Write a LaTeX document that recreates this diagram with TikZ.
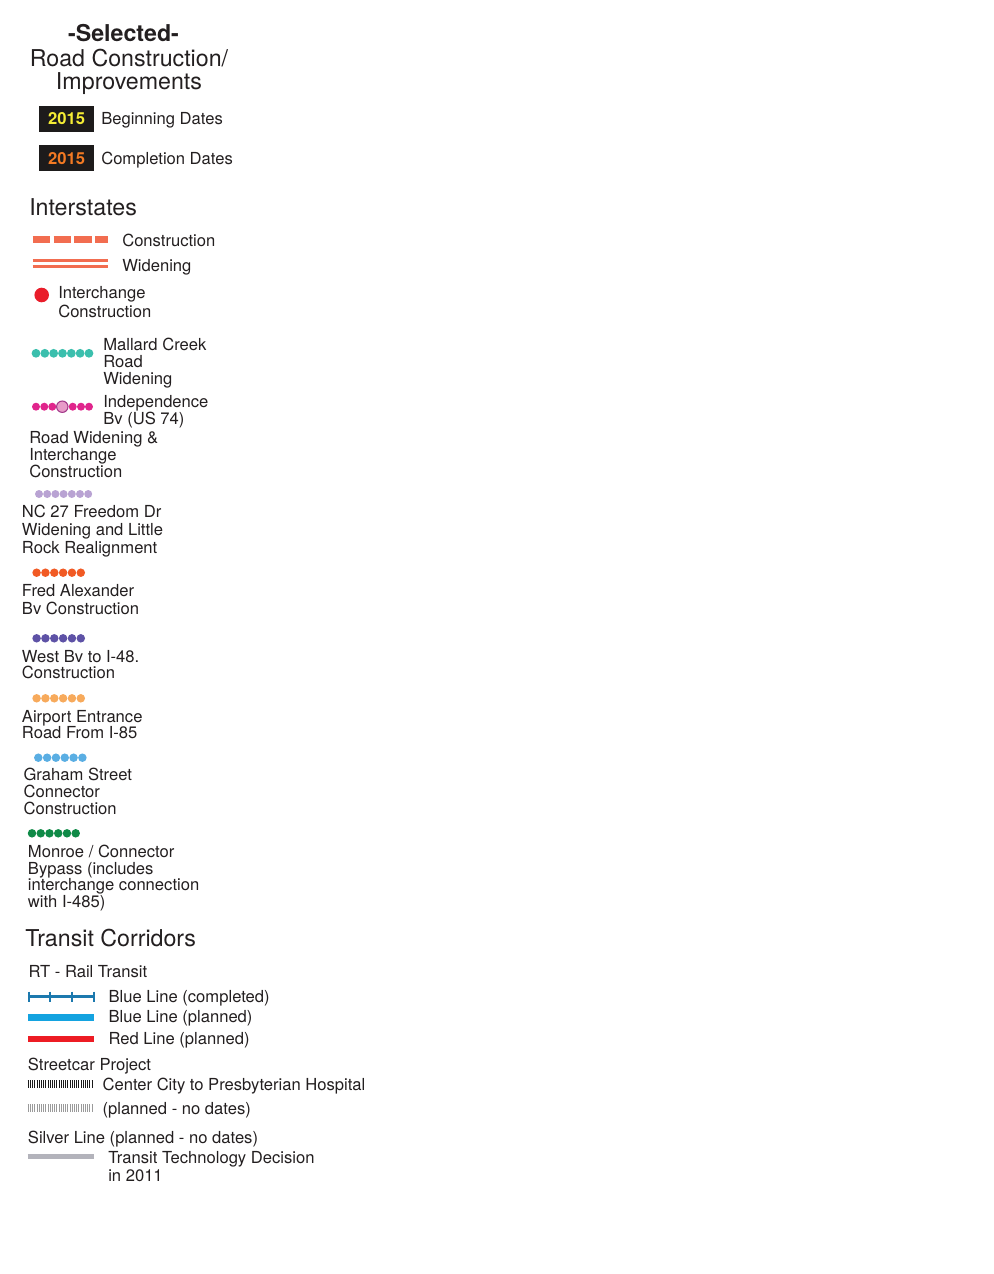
\documentclass[tikz,border=0pt]{standalone}
\usepackage{fontspec}
\setmainfont{TeX Gyre Heros}
\usetikzlibrary{positioning}
\definecolor{ink}{HTML}{231F20}
\definecolor{datebg}{HTML}{1D1B1B}
\definecolor{begyellow}{HTML}{F5EC35}
\definecolor{endorange}{HTML}{F37A23}
\definecolor{interst}{HTML}{F26D50}
\definecolor{ichgred}{HTML}{E91D2A}
\definecolor{mallard}{HTML}{3BBFAD}
\definecolor{indep}{HTML}{E0258C}
\definecolor{indeppink}{HTML}{E79BC8}
\definecolor{indeprim}{HTML}{A2398A}
\definecolor{freedom}{HTML}{B9A3D3}
\definecolor{fredalex}{HTML}{F15A24}
\definecolor{westbv}{HTML}{5E52A6}
\definecolor{airport}{HTML}{F7AA5C}
\definecolor{graham}{HTML}{5AAEE3}
\definecolor{monroe}{HTML}{0F8A47}
\definecolor{bluedone}{HTML}{1C79AE}
\definecolor{blueplan}{HTML}{14A3E0}
\definecolor{redplan}{HTML}{ED1C24}
\definecolor{scdark}{HTML}{1A1A1A}
\definecolor{sclight}{HTML}{9A9A9A}
\definecolor{silver}{HTML}{B3B3BB}
\tikzset{
  px/.style={x=0.75pt, y=-0.75pt},
  heading/.style={anchor=base west, inner sep=0pt, text=ink,
    font=\fontsize{17.4}{18}\selectfont},
  % multi-line items sit on the baseline of their last line
  item/.style={anchor=base west, inner sep=0pt, align=left, text=ink,
    font=\fontsize{12.45}{#1}\selectfont},
  item/.default=12.6,
  datebox/.style={fill=datebg, inner sep=0pt, minimum width=41pt,
    minimum height=19.3pt, font=\bfseries\fontsize{12.45}{13}\selectfont},
  swatch/.style={line cap=butt},
  interdash/.style={swatch, draw=interst, line width=5.5pt,
    dash pattern=on 13pt off 2.6pt},
  interwide/.style={swatch, draw=interst, line width=2.2pt},
  rail/.style={swatch, line width=5pt},
  streetcar/.style={swatch, line width=6pt, dash pattern=on 0.85pt off 0.8pt}
}
\begin{document}
\begin{tikzpicture}[px]
  \useasboundingbox (0,0) rectangle (994,1274);

  % title
  \node[anchor=base, inner sep=0pt, text=ink,
        font=\bfseries\fontsize{17.4}{18}\selectfont] (selected) at (123.5,41.7) {-Selected-};
  \node[anchor=base, inner sep=0pt, align=center, text=ink,
        font=\fontsize{17.4}{17.5}\selectfont] (roadtitle) at (129,89.5) {Road Construction/\\Improvements};

  % date keys
  \node[datebox, text=begyellow] (begbox) at (66.7,118.8) {2015};
  \node[item] (beglbl) at (101,124.3) {Beginning Dates};
  \node[datebox, text=endorange] (endbox) at (66.7,158.3) {2015};
  \node[item] (endlbl) at (101,164) {Completion Dates};

  % Interstates
  \node[heading] (inter) at (29,215) {Interstates};
  \draw[interdash] (32.7,239.7) -- (108.3,239.7);
  \node[item] (constr) at (122,246) {Construction};
  \draw[interwide] (32.7,260.3) -- (108.3,260.3);
  \draw[interwide] (32.7,266.7) -- (108.3,266.7);
  \node[item] (widen) at (122,271.7) {Widening};
  \fill[ichgred] (41.7,295) circle[radius=7.3];
  \node[item=14.5] (ichg) at (58,317.5) {Interchange\\Construction};

  % road projects
  \foreach \i in {0,...,6}
    \fill[mallard] (36+\i*8.83,353.3) circle[radius=4.4];
  \node[item=12.6] (mallardlbl) at (103,384) {Mallard Creek\\Road\\Widening};

  \foreach \x in {36,44.3,52.3,72.7,81,89}
    \fill[indep] (\x,406.7) circle[radius=4];
  \filldraw[fill=indeppink, draw=indeprim, line width=0.8pt] (62.3,406.7) circle[radius=5.7];
  \node[item=12.2] (indeplbl) at (103,424) {Independence\\Bv (US 74)};
  \node[item=12.6] (indepsub) at (29,477) {Road Widening \&\\Interchange\\Construction};

  \foreach \i in {0,...,6}
    \fill[freedom] (39+\i*8.2,494) circle[radius=4];
  \node[item=13.6] (nc27) at (21.7,553.5) {NC 27 Freedom Dr\\Widening and Little\\Rock Realignment};

  \foreach \i in {0,...,5}
    \fill[fredalex] (36.6+\i*8.84,572.7) circle[radius=4.25];
  \node[item=13] (fredlbl) at (21.7,614) {Fred Alexander\\Bv Construction};

  \foreach \i in {0,...,5}
    \fill[westbv] (36.6+\i*8.84,638.3) circle[radius=4.25];
  \node[item=11.3] (westlbl) at (21.7,678) {West Bv to I-48.\\Construction};

  \foreach \i in {0,...,5}
    \fill[airport] (36.6+\i*8.84,698.3) circle[radius=4.25];
  \node[item=12] (airportlbl) at (21.7,738.5) {Airport Entrance\\Road From I-85};

  \foreach \i in {0,...,5}
    \fill[graham] (38.3+\i*8.82,757.7) circle[radius=4.25];
  \node[item=12.5] (grahamlbl) at (23.3,814) {Graham Street\\Connector\\Construction};

  \foreach \i in {0,...,5}
    \fill[monroe] (32+\i*8.74,833.3) circle[radius=4.25];
  \node[item=12.5] (monroelbl) at (27.7,907.5) {Monroe / Connector\\Bypass (includes\\interchange connection\\with I-485)};

  % Transit Corridors
  \node[heading] (transit) at (25,946.7) {Transit Corridors};
  \node[item] (rt) at (28.3,977) {RT - Rail Transit};
  \draw[swatch, bluedone, line width=2.2pt] (28.3,996.7) -- (94.3,996.7);
  \foreach \x in {29,50,72.3,94.3}
    \draw[bluedone, line width=1.5pt] (\x,991.7) -- (\x,1001.7);
  \node[item] (bluedonelbl) at (108.3,1002) {Blue Line (completed)};
  \draw[rail, blueplan] (28.3,1017.3) -- (94.3,1017.3);
  \node[item] (blueplanlbl) at (108.3,1022.5) {Blue Line (planned)};
  \draw[rail, redplan] (28.3,1039) -- (94.3,1039);
  \node[item] (redplanlbl) at (108.3,1044) {Red Line (planned)};

  \node[item] (street) at (27.7,1070.5) {Streetcar Project};
  \draw[streetcar, scdark] (27.7,1084.3) -- (93.3,1084.3);
  \node[item] (scdonelbl) at (102.3,1090) {Center City to Presbyterian Hospital};
  \draw[streetcar, sclight] (27.7,1108.3) -- (93.3,1108.3);
  \node[item] (scplanlbl) at (102.3,1114) {(planned - no dates)};

  \node[item] (silverlbl) at (27.7,1143) {Silver Line (planned - no dates)};
  \draw[swatch, silver, line width=3.75pt] (27.7,1156) -- (94,1156);
  \node[item=13.5] (silvertxt) at (108,1181.5) {Transit Technology Decision\\in 2011};

\end{tikzpicture}
\end{document}
